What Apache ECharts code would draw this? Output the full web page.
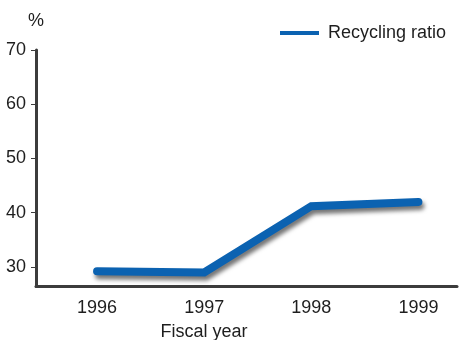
<!DOCTYPE html>
<html>
<head>
<meta charset="utf-8">
<style>
  html, body { margin: 0; padding: 0; background: #fff; }
  #chart { width: 460px; height: 340px; }
</style>
<script src="https://cdn.jsdelivr.net/npm/echarts@6/dist/echarts.min.js"></script>
</head>
<body>
<div id="chart"></div>
<script>
// Recycling ratio by fiscal year (%)
const years = [1996, 1997, 1998, 1999];
const recyclingRatio = [29.2, 29.0, 41.2, 42.0];
const yTicks = [30, 40, 50, 60, 70];

const FONT = '"Liberation Sans", Arial, Helvetica, sans-serif';
const TEXT = '#1e1e1e';
const AXIS = '#3c3c3c';

const chart = echarts.init(document.getElementById('chart'), null, { renderer: 'canvas' });

chart.setOption({
  animation: false,
  backgroundColor: '#ffffff',
  grid: { left: 36, right: 3, top: 50, bottom: 53.5, containLabel: false, outerBoundsMode: 'none' },
  legend: {
    left: 280,
    top: 24,
    padding: 0,
    itemWidth: 39,
    itemHeight: 4,
    icon: 'rect',
    textStyle: { fontFamily: FONT, fontSize: 18, color: TEXT, padding: [0, 0, 0, 4] },
    data: ['Recycling ratio']
  },
  xAxis: {
    type: 'value',
    min: 1995.43,
    max: 1999.36,
    splitLine: { show: false },
    axisLine: { show: true, lineStyle: { color: AXIS, width: 3 } },
    axisTick: { show: false },
    axisLabel: {
      customValues: years,
      formatter: v => String(Math.round(v)),
      margin: 13,
      fontFamily: FONT, fontSize: 18, color: TEXT
    },
    name: 'Fiscal year',
    nameLocation: 'middle',
    nameGap: 37,
    nameTextStyle: { fontFamily: FONT, fontSize: 18, color: TEXT, padding: [0, 85, 0, 0] }
  },
  yAxis: {
    type: 'value',
    min: 26.4,
    max: 70,
    splitLine: { show: false },
    axisLine: { show: true, lineStyle: { color: AXIS, width: 3 } },
    axisTick: { show: true, customValues: yTicks, length: 5, lineStyle: { color: AXIS, width: 1 } },
    axisLabel: {
      customValues: yTicks,
      margin: 10,
      fontFamily: FONT, fontSize: 18, color: TEXT
    },
    name: '%',
    nameLocation: 'end',
    nameGap: 20,
    nameTextStyle: { fontFamily: FONT, fontSize: 18, color: TEXT, align: 'center' }
  },
  series: [{
    name: 'Recycling ratio',
    type: 'line',
    data: years.map((y, i) => [y, recyclingRatio[i]]),
    showSymbol: false,
    symbol: 'none',
    itemStyle: { color: '#0b62b1' },
    lineStyle: {
      color: '#0b62b1',
      width: 8,
      cap: 'round',
      join: 'miter',
      shadowColor: 'rgba(0,0,0,0.55)',
      shadowBlur: 4,
      shadowOffsetX: 2,
      shadowOffsetY: 4
    }
  }]
});
</script>
</body>
</html>
